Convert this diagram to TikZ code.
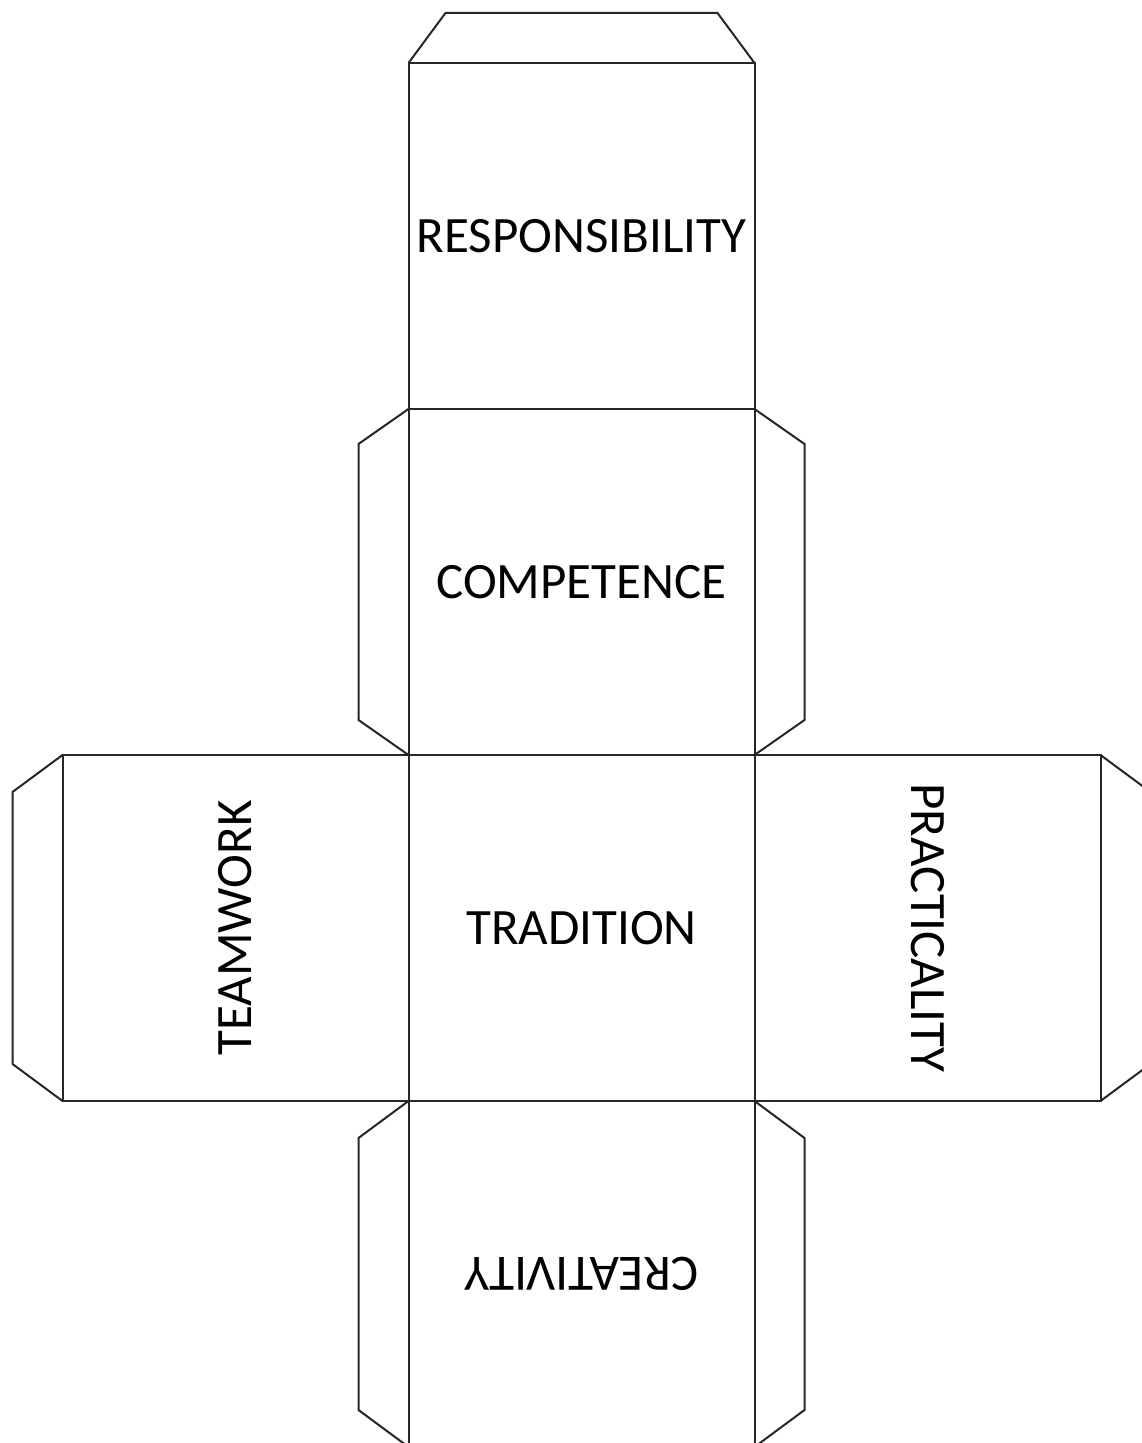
\documentclass[tikz,border=0pt]{standalone}
\usepackage{graphicx}
\usepackage{fontspec}
\setmainfont{Carlito}
\usetikzlibrary{positioning}

\begin{document}
\begin{tikzpicture}[x=1pt,y=1pt,node distance=0pt,
face/.style={draw=black!85,line width=2pt,rectangle,minimum size=346pt,
inner sep=0pt,outer sep=0pt,font=\fontsize{51}{53}\selectfont},
tab/.style={draw=black!85,line width=2pt,line join=miter}]
\useasboundingbox (0,0) rectangle (1142,1443);
\clip (0,0) rectangle (1142,1443);
% faces
\node[face] (tradition) at (581.5,515) {TRADITION};
\node[face,above=of tradition] (competence) {COMPETENCE};
\node[face,above=of competence] (responsibility) {RESPONSIBILITY};
\node[face,left=of tradition] (teamwork) {\rotatebox{90}{TEAMWORK}};
\node[face,right=of tradition] (practicality) {\rotatebox{-90}{PRACTICALITY}};
\node[face,below=of tradition] (creativity) {\rotatebox{180}{CREATIVITY}};
% glue tabs
\draw[tab] (responsibility.north west) -- ++(37,50) -- ++(272,0)
  -- (responsibility.north east);
\foreach \f/\d in {competence/35,creativity/37} {
\draw[tab] (\f.north west) -- ++(-50,-\d) -- ++(0,-346+2*\d) -- (\f.south west);
\draw[tab] (\f.north east) -- ++(50,-\d) -- ++(0,-346+2*\d) -- (\f.south east);
}
\draw[tab] (teamwork.north west) -- ++(-50,-37) -- ++(0,-272) -- (teamwork.south west);
\draw[tab] (practicality.north east) -- ++(50,-37) -- ++(0,-272)
  -- (practicality.south east);
\end{tikzpicture}
\end{document}
